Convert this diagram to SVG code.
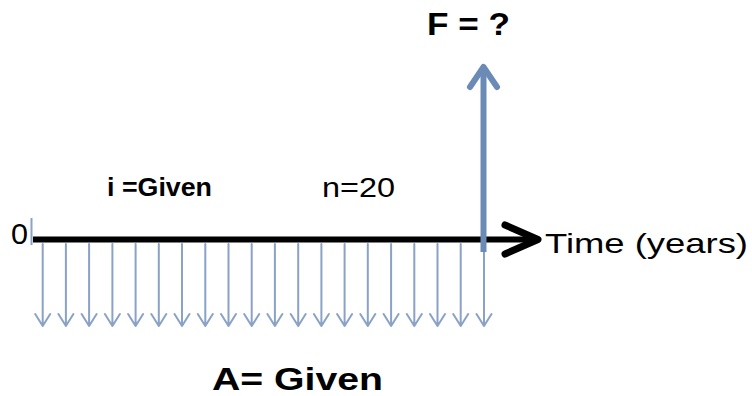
<svg xmlns="http://www.w3.org/2000/svg" width="752" height="396" viewBox="0 0 752 396">
<style>
.dn{stroke:#8aa2c6;stroke-width:2;fill:none;stroke-linecap:round;stroke-linejoin:round}
.t{font-family:"Liberation Sans",Arial,sans-serif;fill:#000}
.b{font-weight:bold}
</style>
<defs>
<g id="da"><path class="dn" d="M0,244 V326 M-7.5,314 L0,326 L7.5,314"/></g>
</defs>
<rect width="752" height="396" fill="#fff"/>
<g id="connectors">
<g id="payments">
<use href="#da" x="42.7"/><use href="#da" x="65.9"/><use href="#da" x="89.1"/><use href="#da" x="112.4"/><use href="#da" x="135.6"/>
<use href="#da" x="158.8"/><use href="#da" x="182.0"/><use href="#da" x="205.3"/><use href="#da" x="228.5"/><use href="#da" x="251.7"/>
<use href="#da" x="274.9"/><use href="#da" x="298.2"/><use href="#da" x="321.4"/><use href="#da" x="344.6"/><use href="#da" x="367.8"/>
<use href="#da" x="391.1"/><use href="#da" x="414.3"/><use href="#da" x="437.5"/><use href="#da" x="460.7"/><use href="#da" x="484"/>
</g>
<line x1="31.5" y1="218" x2="31.5" y2="245" stroke="#8aa2c6" stroke-width="2"/>
<g id="axis">
<line x1="33" y1="239.5" x2="536" y2="239.5" stroke="#000" stroke-width="6"/>
<path d="M505,225 L538,239.5 L505,254" fill="none" stroke="#000" stroke-width="7" stroke-linecap="round" stroke-linejoin="round"/>
</g>
<g id="future">
<line x1="483.5" y1="252" x2="483.5" y2="68" stroke="#6b8bb6" stroke-width="6"/>
<path d="M470,87 L483.5,67 L497,87" fill="none" stroke="#6b8bb6" stroke-width="6" stroke-linecap="round" stroke-linejoin="round"/>
</g>
</g>
<g id="label-F"><text class="t b" x="427" y="35" font-size="31" textLength="83" lengthAdjust="spacingAndGlyphs">F = ?</text></g>
<g id="label-0"><text class="t" x="11" y="244" font-size="30" textLength="17" lengthAdjust="spacingAndGlyphs">0</text></g>
<g id="label-time"><text class="t" x="545" y="253" font-size="28" textLength="203" lengthAdjust="spacingAndGlyphs">Time (years)</text></g>
<g id="label-i"><text class="t b" x="107" y="196" font-size="26" textLength="105" lengthAdjust="spacingAndGlyphs">i =Given</text></g>
<g id="label-n"><text class="t" x="322" y="197" font-size="27" textLength="73" lengthAdjust="spacingAndGlyphs">n=20</text></g>
<g id="label-A"><text class="t b" x="212" y="390" font-size="32" textLength="171" lengthAdjust="spacingAndGlyphs">A= Given</text></g>
</svg>
